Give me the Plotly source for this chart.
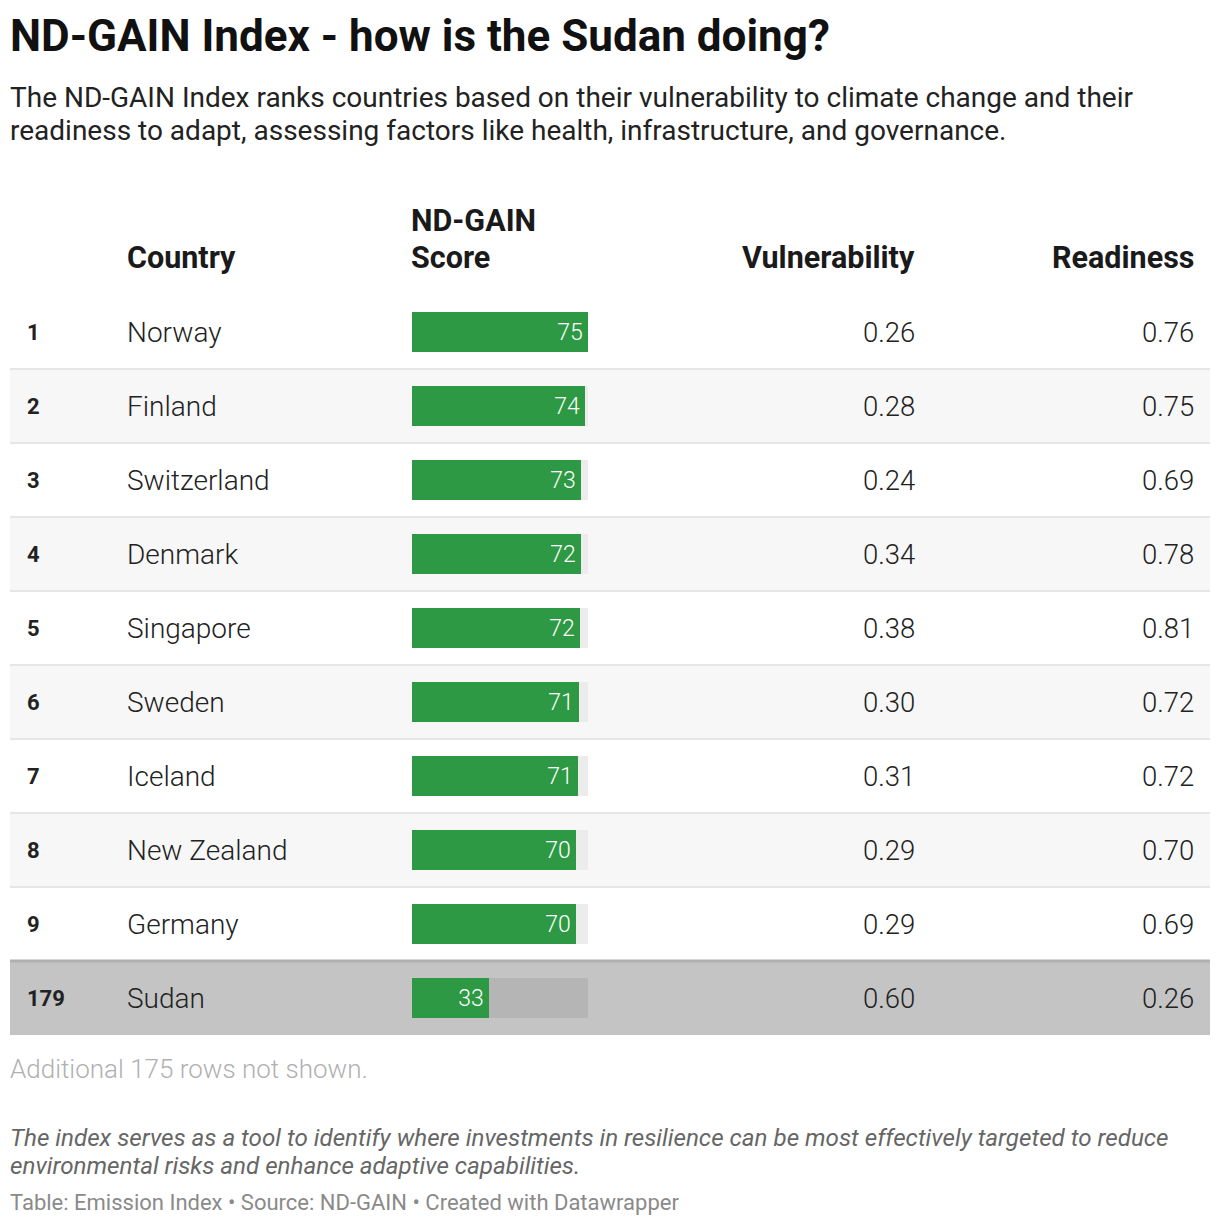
import plotly.graph_objects as go

# table data
ranks = ["1", "2", "3", "4", "5", "6", "7", "8", "9", "179"]
countries = ["Norway", "Finland", "Switzerland", "Denmark", "Singapore",
             "Sweden", "Iceland", "New Zealand", "Germany", "Sudan"]
scores = [75.4, 74.3, 72.6, 72.4, 71.9, 71.4, 71.1, 70.4, 70.3, 32.8]
vulnerability = ["0.26", "0.28", "0.24", "0.34", "0.38", "0.30", "0.31", "0.29", "0.29", "0.60"]
readiness = ["0.76", "0.75", "0.69", "0.78", "0.81", "0.72", "0.72", "0.70", "0.69", "0.26"]
highlight = "Sudan"

title = "ND-GAIN Index - how is the Sudan doing?"
subtitle = ["The ND-GAIN Index ranks countries based on their vulnerability to climate change and their",
            "readiness to adapt, assessing factors like health, infrastructure, and governance."]
notes = ["The index serves as a tool to identify where investments in resilience can be most effectively targeted to reduce",
         "environmental risks and enhance adaptive capabilities."]
more_rows = "Additional 175 rows not shown."
source = "Table: Emission Index \u2022 Source: ND-GAIN \u2022 Created with Datawrapper"

W, H = 1220, 1226
GREEN = "#2e9944"
FONT = "Roboto"


def px(x):
    return x / W


def py(y):
    return 1 - y / H


rows = list(range(len(countries)))
hl = [c == highlight for c in countries]
track_col = ["#b5b5b5" if h else "#ececec" for h in hl]

fig = go.Figure()

# background track for each bar
fig.add_trace(go.Bar(
    x=[max(scores)] * len(scores), y=rows, orientation="h",
    marker=dict(color=track_col, line=dict(width=0)),
    width=0.54, hoverinfo="skip",
))
# score bars
fig.add_trace(go.Bar(
    x=scores, y=rows, orientation="h",
    marker=dict(color=GREEN, line=dict(width=0)),
    width=0.54,
    text=[f"{s:.0f}\u200a" for s in scores],
    textposition="inside", insidetextanchor="end",
    textangle=0,
    insidetextfont=dict(family=FONT, size=23, color="white", weight=300),
    hoverinfo="skip",
))

shapes = []
# row backgrounds
for i in rows:
    if hl[i]:
        col = "#c4c4c4"
    elif i % 2 == 1:
        col = "#f7f7f7"
    else:
        col = "white"
    shapes.append(dict(type="rect", xref="paper", yref="y", layer="below",
                       x0=px(10), x1=px(1210), y0=i - 0.5, y1=i + 0.5,
                       fillcolor=col, line=dict(width=0)))
# row separators
for i in rows[:-1]:
    lc = "#b0b0b0" if hl[i + 1] else "#e6e6e6"
    lw = 3 if hl[i + 1] else 2
    shapes.append(dict(type="line", xref="paper", yref="y", layer="below",
                       x0=px(10), x1=px(1210), y0=i + 0.5, y1=i + 0.5,
                       line=dict(color=lc, width=lw)))
# header rule
shapes.append(dict(type="line", xref="paper", yref="y",
                   x0=px(10), x1=px(1210), y0=-0.53, y1=-0.53,
                   line=dict(color="#333333", width=4)))

ann = []
body = dict(family=FONT, color="#222222", weight=300)
for i in rows:
    ann.append(dict(x=px(25), y=i, xref="paper", yref="y", text=ranks[i],
                    xanchor="left", yanchor="middle", showarrow=False,
                    font=dict(family=FONT, size=22, color="#222222", weight=700)))
    ann.append(dict(x=px(125), y=i, xref="paper", yref="y", text=countries[i],
                    xanchor="left", yanchor="middle", showarrow=False,
                    font=dict(body, size=28)))
    ann.append(dict(x=px(917), y=i, xref="paper", yref="y", text=vulnerability[i],
                    xanchor="right", yanchor="middle", showarrow=False,
                    font=dict(body, size=27.5)))
    ann.append(dict(x=px(1196), y=i, xref="paper", yref="y", text=readiness[i],
                    xanchor="right", yanchor="middle", showarrow=False,
                    font=dict(body, size=27.5)))


def text_at(txt, x, y, size, color, anchor="left", weight=400, italic=False):
    ann.append(dict(x=px(x), y=py(y), xref="paper", yref="paper",
                    text=f"<i>{txt}</i>" if italic else txt,
                    xanchor=anchor, yanchor="middle", showarrow=False,
                    font=dict(family=FONT, size=size, color=color, weight=weight)))


# column headers
hcol = "#1a1a1a"
text_at("Country", 125, 257, 30.5, hcol, weight=700)
text_at("ND-GAIN", 409, 221, 30.5, hcol, weight=700)
text_at("Score", 409, 257, 30.5, hcol, weight=700)
text_at("Vulnerability", 917, 257, 30.5, hcol, anchor="right", weight=700)
text_at("Readiness", 1196, 257, 30.5, hcol, anchor="right", weight=700)

# title block
text_at(title, 8, 36, 44, "#111111", weight=700)
text_at(subtitle[0], 8, 97, 28, "#222222")
text_at(subtitle[1], 8, 130, 28, "#222222")

# footer block
text_at(more_rows, 8, 1069, 26, "#b0b0b0", weight=300)
text_at(notes[0], 8, 1138, 24.2, "#666666", italic=True)
text_at(notes[1], 8, 1166, 24.2, "#666666", italic=True)
text_at(source, 8, 1202, 22, "#8a8a8a")

fig.update_layout(
    width=W, height=H,
    margin=dict(l=0, r=0, t=0, b=0),
    paper_bgcolor="white", plot_bgcolor="rgba(0,0,0,0)",
    barmode="overlay", bargap=0,
    showlegend=False,
    shapes=shapes, annotations=ann,
    xaxis=dict(domain=[px(412), px(588)], range=[0, max(scores)],
               visible=False, fixedrange=True),
    yaxis=dict(domain=[py(1035), py(295)], range=[9.5, -0.5],
               visible=False, fixedrange=True),
)

fig.write_html("out.html", config={"displayModeBar": False},
               post_script="document.body.style.margin='0';")
